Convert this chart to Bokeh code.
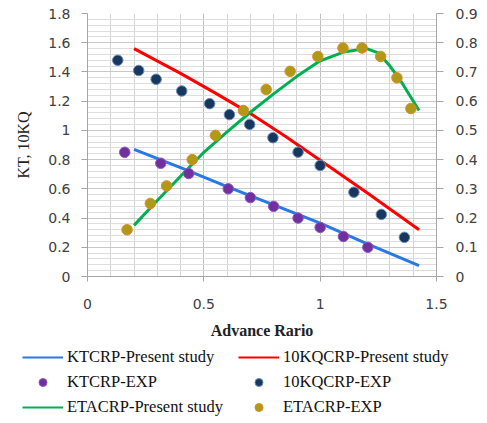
from bokeh.plotting import figure
from bokeh.layouts import column
from bokeh.models import (Range1d, LinearAxis, SingleIntervalTicker, CustomJSTickFormatter,
                          Legend, LegendItem)
from bokeh.embed import file_html
from bokeh.resources import INLINE

# ---- data ----
kt_line_j = [0.20, 0.40, 0.60, 0.80, 1.00, 1.20, 1.425]
kt_line = [0.87, 0.745, 0.615, 0.49, 0.365, 0.225, 0.075]

kq_line_j = [0.20, 0.40, 0.55, 0.70, 0.85, 1.00, 1.20, 1.425]
kq_line = [1.56, 1.39, 1.255, 1.115, 0.96, 0.795, 0.575, 0.32]

eta_line_j = [0.20, 0.30, 0.40, 0.50, 0.60, 0.70, 0.80, 0.90, 1.00, 1.10, 1.20, 1.25, 1.30, 1.35, 1.425]
eta_line = [0.175, 0.26, 0.343, 0.425, 0.495, 0.562, 0.625, 0.685, 0.738, 0.768, 0.78, 0.765, 0.72, 0.665, 0.568]

kt_exp_j = [0.16, 0.315, 0.435, 0.605, 0.70, 0.80, 0.905, 1.00, 1.10, 1.205]
kt_exp = [0.85, 0.775, 0.705, 0.60, 0.54, 0.48, 0.40, 0.336, 0.274, 0.20]

kq_exp_j = [0.13, 0.22, 0.295, 0.405, 0.525, 0.61, 0.697, 0.797, 0.905, 1.00, 1.145, 1.263, 1.362]
kq_exp = [1.48, 1.41, 1.35, 1.27, 1.183, 1.108, 1.041, 0.95, 0.851, 0.76, 0.577, 0.425, 0.268]

eta_exp_j = [0.17, 0.27, 0.34, 0.45, 0.55, 0.67, 0.768, 0.871, 0.99, 1.098, 1.18, 1.26, 1.33, 1.39]
eta_exp = [0.16, 0.25, 0.31, 0.40, 0.483, 0.568, 0.64, 0.702, 0.753, 0.782, 0.782, 0.753, 0.68, 0.575]

labels = ["KTCRP-Present study", "10KQCRP-Present study", "KTCRP-EXP",
          "10KQCRP-EXP", "ETACRP-Present study", "ETACRP-EXP"]

left_ticks_interval = 0.2
right_ticks_interval = 0.1

# ---- styles ----
STY = {
    "kt": dict(line_color="#2878E6", line_width=3),
    "kq": dict(line_color="#FF0000", line_width=3),
    "eta": dict(line_color="#00B050", line_width=3),
    "ktx": dict(marker="circle", size=10.5, fill_color="#7030A0", line_color="#8E5CC0", line_width=1),
    "kqx": dict(marker="circle", size=10.5, fill_color="#17375E", line_color="#6A8DB5", line_width=1),
    "etax": dict(marker="circle", size=10.5, fill_color="#AE9A16", line_color="#E08A2A", line_width=1),
}

W = 487
H1, H2 = 345, 78

# ---- main chart ----
p = figure(width=W, height=H1, output_backend="svg", toolbar_location=None,
           x_range=Range1d(0, 1.5), y_range=Range1d(0, 1.8),
           min_border_left=87, min_border_right=51, min_border_top=13, min_border_bottom=H1 - 276)
p.frame_align = False
p.outline_line_color = None
p.extra_y_ranges = {"eta": Range1d(0, 0.9)}

fmt = CustomJSTickFormatter(code="return String(Math.round(tick*10)/10);")
tick_font = "DejaVu Sans"
tick_color = "#404040"
axis_color = "#A6A6A6"

xa = p.xaxis[0]
xa.ticker = SingleIntervalTicker(interval=0.5, num_minor_ticks=5)
xa.formatter = fmt
xa.axis_label = "Advance Rario"
xa.axis_label_text_font = "Liberation Serif"
xa.axis_label_text_font_style = "bold"
xa.axis_label_text_font_size = "16px"
xa.axis_label_text_color = "#222222"
xa.axis_label_standoff = 10
xa.major_label_text_font = tick_font
xa.major_label_text_font_size = "14px"
xa.major_label_text_color = tick_color
xa.major_label_standoff = 17
xa.axis_line_color = axis_color
xa.major_tick_line_color = axis_color
xa.major_tick_out = 5
xa.major_tick_in = 0
xa.minor_tick_line_color = None

ya = p.yaxis[0]
ya.ticker = SingleIntervalTicker(interval=left_ticks_interval, num_minor_ticks=5)
ya.formatter = fmt
ya.axis_label = "KT, 10KQ"
ya.axis_label_text_font = "Liberation Serif"
ya.axis_label_text_font_style = "normal"
ya.axis_label_text_font_size = "16px"
ya.axis_label_text_color = "#222222"
ya.axis_label_standoff = 13
ya.major_label_text_font = tick_font
ya.major_label_text_font_size = "14px"
ya.major_label_text_color = tick_color
ya.major_label_standoff = 11
ya.axis_line_color = axis_color
ya.major_tick_line_color = axis_color
ya.major_tick_out = 6
ya.major_tick_in = 0
ya.minor_tick_line_color = None

ra = LinearAxis(y_range_name="eta",
                ticker=SingleIntervalTicker(interval=right_ticks_interval, num_minor_ticks=1),
                formatter=fmt)
ra.major_label_text_font = tick_font
ra.major_label_text_font_size = "14px"
ra.major_label_text_color = tick_color
ra.major_label_standoff = 12
ra.axis_line_color = axis_color
ra.major_tick_line_color = axis_color
ra.major_tick_out = 7
ra.major_tick_in = 0
ra.minor_tick_line_color = None
p.add_layout(ra, "right")

p.xgrid.grid_line_color = "#BFBFBF"
p.xgrid.minor_grid_line_color = "#D4D4D4"
p.ygrid.grid_line_color = "#C8C8C8"
p.ygrid.minor_grid_line_color = "#DDDDDD"


def draw(fig, lw=None):
    r = {}
    extra = {} if lw is None else {"line_width": lw}
    r["kt"] = fig.line(kt_line_j, kt_line, **{**STY["kt"], **extra})
    r["kq"] = fig.line(kq_line_j, kq_line, **{**STY["kq"], **extra})
    r["eta"] = fig.line(eta_line_j, eta_line, y_range_name="eta", **{**STY["eta"], **extra})
    r["ktx"] = fig.scatter(kt_exp_j, kt_exp, **STY["ktx"])
    r["kqx"] = fig.scatter(kq_exp_j, kq_exp, **STY["kqx"])
    r["etax"] = fig.scatter(eta_exp_j, eta_exp, y_range_name="eta", **STY["etax"])
    return r


draw(p)

# ---- legend strip (same series, view range set away so only the legend shows) ----
q = figure(width=W, height=H2, output_backend="svg", toolbar_location=None,
           x_range=Range1d(10, 11), y_range=Range1d(10, 11),
           min_border=0, min_border_left=0, min_border_right=0,
           min_border_top=0, min_border_bottom=0,
           x_axis_location=None, y_axis_location=None)
q.frame_align = False
q.extra_y_ranges = {"eta": Range1d(10, 11)}
q.outline_line_color = None
q.xgrid.visible = False
q.ygrid.visible = False
rq = draw(q, lw=2)


def mk_legend(items, loc):
    return Legend(items=items, location=loc, orientation="vertical",
                  glyph_width=41, glyph_height=20, label_height=20, spacing=5,
                  label_standoff=4, padding=0, margin=0,
                  border_line_color=None, background_fill_alpha=0,
                  label_text_font="Liberation Serif", label_text_font_size="16.5px",
                  label_text_color="#111111")


lg1 = mk_legend([LegendItem(label=labels[0], renderers=[rq["kt"]]),
                 LegendItem(label=labels[2], renderers=[rq["ktx"]]),
                 LegendItem(label=labels[4], renderers=[rq["eta"]])], (22, 6))
lg2 = mk_legend([LegendItem(label=labels[1], renderers=[rq["kq"]]),
                 LegendItem(label=labels[3], renderers=[rq["kqx"]]),
                 LegendItem(label=labels[5], renderers=[rq["etax"]])], (238, 6))
q.add_layout(lg1, "center")
q.add_layout(lg2, "center")

layout = column(p, q, spacing=0)
open("out.html", "w").write(file_html(layout, INLINE))
